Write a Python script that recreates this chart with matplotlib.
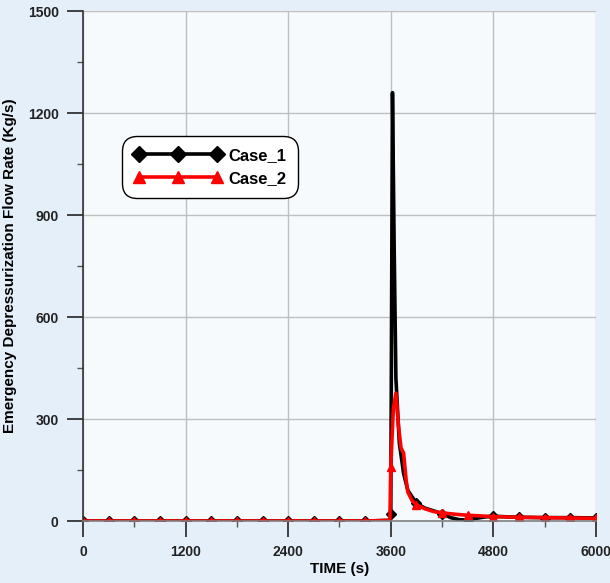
import numpy as np
import matplotlib as mpl
mpl.use('Agg')
import matplotlib.pyplot as plt
from matplotlib.ticker import MultipleLocator

mpl.rcParams['font.family'] = ['Liberation Sans', 'DejaVu Sans']
mpl.rcParams['font.weight'] = 'bold'

# Case_1 : time (s) and flow rate (kg/s)
t1 = [0, 300, 600, 900, 1200, 1500, 1800, 2100, 2400, 2700, 3000, 3300, 3590, 3600,
      3620, 3640, 3660, 3700, 3750, 3800, 3900, 4000, 4100, 4200, 4300, 4400, 4500,
      4600, 4700, 4800, 5100, 5400, 5700, 6000]
y1 = [0, 0, 0, 0, 0, 0, 0, 0, 0, 0, 0, 0, 2, 20,
      1260, 800, 420, 230, 140, 90, 52, 38, 30, 22, 10, 4, 3,
      8, 12, 14, 11, 10, 10, 9]

# Case_2
t2 = [0, 300, 600, 900, 1200, 1500, 1800, 2100, 2400, 2700, 3000, 3300, 3590, 3600,
      3630, 3660, 3690, 3720, 3750, 3780, 3800, 3850, 3900, 4000, 4100, 4200, 4350,
      4500, 4800, 5100, 5400, 5700, 6000]
y2 = [0, 0, 0, 0, 0, 0, 0, 0, 0, 0, 0, 0, 2, 160,
      330, 376, 280, 215, 200, 120, 85, 60, 48, 36, 28, 24, 20,
      17, 13, 11, 10, 9, 8]

mk1 = [i for i, t in enumerate(t1) if t % 300 == 0]
mk2 = [i for i, t in enumerate(t2) if t % 300 == 0]

fig = plt.figure(figsize=(6.1, 5.83), dpi=100, facecolor='#e4eff9')
ax = fig.add_axes([0.136, 0.1063, 0.841, 0.8747])
ax.set_facecolor('#f6fafd')

ax.plot(t1, y1, '-', color='black', lw=2.6, marker='D', ms=5, markevery=mk1, label='Case_1')
ax.plot(t2, y2, '-', color='#ff0000', lw=2.6, marker='^', ms=5.5, markevery=mk2, label='Case_2')

ax.set_xlim(0, 6000)
ax.set_ylim(0, 1500)
ax.xaxis.set_major_locator(MultipleLocator(1200))
ax.xaxis.set_minor_locator(MultipleLocator(600))
ax.yaxis.set_major_locator(MultipleLocator(300))
ax.yaxis.set_minor_locator(MultipleLocator(150))
ax.grid(True, which='major', color='#bfbfbf', lw=1)
ax.set_axisbelow(True)

for s in ['top', 'right']:
    ax.spines[s].set_visible(False)
ax.spines['left'].set_color('#333333')
ax.spines['bottom'].set_color('#808080')
ax.spines['left'].set_linewidth(1.2)
ax.spines['bottom'].set_linewidth(1.2)

ax.tick_params(which='major', length=11.5, width=1.2, color='#222222', labelsize=10, pad=6)
ax.tick_params(which='minor', length=4, width=1, color='#555555')
for lab in ax.get_xticklabels() + ax.get_yticklabels():
    lab.set_fontweight('bold')
    lab.set_color('#222222')

ax.set_xlabel('TIME (s)', fontsize=11, fontweight='bold', labelpad=2)
ax.set_ylabel('Emergency Depressurization Flow Rate (Kg/s)', fontsize=11, fontweight='bold', labelpad=8)

leg = ax.legend(loc='upper left', bbox_to_anchor=(0.076, 0.755), numpoints=3, handlelength=5.3,
                prop={'size': 12, 'weight': 'bold'}, fancybox=True, framealpha=1,
                edgecolor='black', borderpad=0.7, labelspacing=0.5, handletextpad=0.4,
                borderaxespad=0)
leg.get_frame().set_linewidth(1.0)
leg.get_frame().set_boxstyle('round,pad=0,rounding_size=0.9')
for h in leg.get_lines():
    h.set_markersize(8)

fig.savefig('out.png', dpi=100, facecolor=fig.get_facecolor())
